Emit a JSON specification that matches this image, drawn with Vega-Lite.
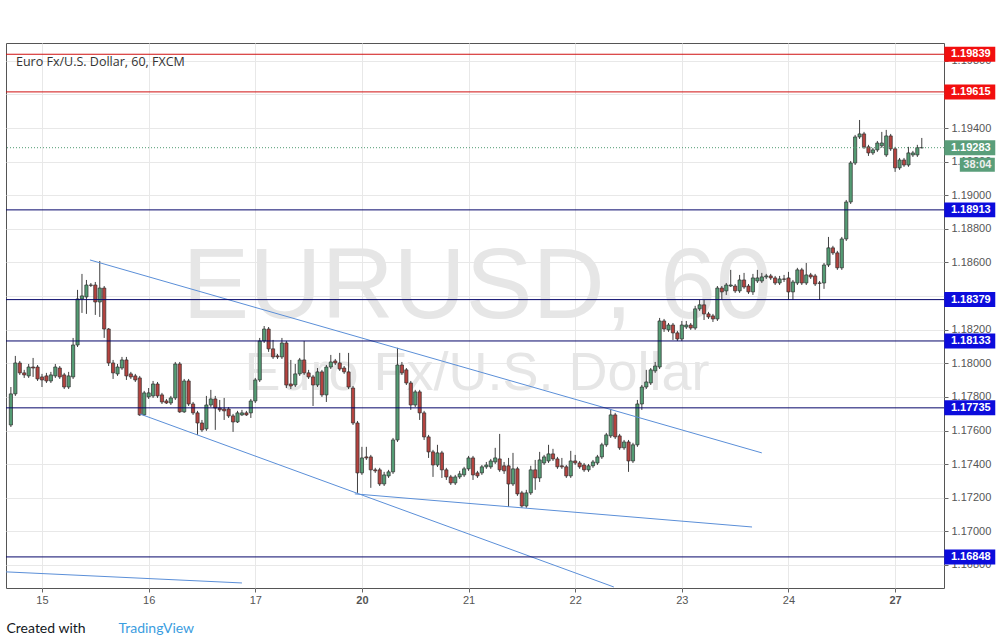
{
  "$schema": "https://vega.github.io/schema/vega-lite/v6.json",
  "width": 938,
  "height": 545,
  "autosize": "none",
  "padding": {"left": 6, "top": 43, "right": 58, "bottom": 56},
  "background": "white",
  "config": {"font": "Liberation Sans", "view": {"stroke": "#555555", "strokeWidth": 1}, "scale": {"continuousPadding": 0}, "axis": {"labelOverlap": false, "labelFlush": false, "labelSeparation": 0}},
  "title": {"text": "Euro Fx/U.S. Dollar, 60, FXCM", "anchor": "start", "frame": "group", "orient": "top", "offset": -35, "dx": 10, "baseline": "alphabetic", "fontSize": 12.5, "fontWeight": "normal", "color": "#333333", "font": "Open Sans"},
  "datasets": {
    "candles": [
      {"t":-7,"o":1.17633,"h":1.17859,"l":1.17621,"c":1.17818},
      {"t":-6,"o":1.17818,"h":1.18044,"l":1.17806,"c":1.18002},
      {"t":-5,"o":1.18002,"h":1.18014,"l":1.17931,"c":1.17943},
      {"t":-4,"o":1.17943,"h":1.17961,"l":1.17913,"c":1.17931},
      {"t":-3,"o":1.17925,"h":1.17996,"l":1.17913,"c":1.17978},
      {"t":-2,"o":1.17978,"h":1.18032,"l":1.17919,"c":1.17972},
      {"t":-1,"o":1.17978,"h":1.17990,"l":1.17895,"c":1.17907},
      {"t":0,"o":1.17919,"h":1.17937,"l":1.17859,"c":1.17901},
      {"t":1,"o":1.17925,"h":1.17943,"l":1.17883,"c":1.17895},
      {"t":2,"o":1.17895,"h":1.17949,"l":1.17883,"c":1.17931},
      {"t":3,"o":1.17925,"h":1.17996,"l":1.17913,"c":1.17978},
      {"t":4,"o":1.17972,"h":1.17984,"l":1.17907,"c":1.17919},
      {"t":5,"o":1.17931,"h":1.17943,"l":1.17847,"c":1.17859},
      {"t":6,"o":1.17859,"h":1.17949,"l":1.17847,"c":1.17925},
      {"t":7,"o":1.17919,"h":1.18151,"l":1.17907,"c":1.18109},
      {"t":8,"o":1.18109,"h":1.18437,"l":1.18097,"c":1.18383},
      {"t":9,"o":1.18383,"h":1.18532,"l":1.18300,"c":1.18401},
      {"t":10,"o":1.18395,"h":1.18496,"l":1.18294,"c":1.18466},
      {"t":11,"o":1.18466,"h":1.18478,"l":1.18454,"c":1.18464},
      {"t":12,"o":1.18466,"h":1.18484,"l":1.18288,"c":1.18365},
      {"t":13,"o":1.18365,"h":1.18609,"l":1.18276,"c":1.18448},
      {"t":14,"o":1.18448,"h":1.18460,"l":1.18151,"c":1.18204},
      {"t":15,"o":1.18204,"h":1.18210,"l":1.17984,"c":1.18002},
      {"t":16,"o":1.18002,"h":1.18020,"l":1.17907,"c":1.17943},
      {"t":17,"o":1.17937,"h":1.17996,"l":1.17925,"c":1.17978},
      {"t":18,"o":1.17972,"h":1.18038,"l":1.17961,"c":1.18020},
      {"t":19,"o":1.18020,"h":1.18038,"l":1.17901,"c":1.17925},
      {"t":20,"o":1.17937,"h":1.17949,"l":1.17907,"c":1.17919},
      {"t":21,"o":1.17925,"h":1.17937,"l":1.17889,"c":1.17901},
      {"t":22,"o":1.17913,"h":1.17925,"l":1.17687,"c":1.17693},
      {"t":23,"o":1.17693,"h":1.17836,"l":1.17687,"c":1.17824},
      {"t":24,"o":1.17800,"h":1.17853,"l":1.17788,"c":1.17824},
      {"t":25,"o":1.17806,"h":1.17895,"l":1.17794,"c":1.17877},
      {"t":26,"o":1.17877,"h":1.17889,"l":1.17794,"c":1.17806},
      {"t":27,"o":1.17812,"h":1.17824,"l":1.17758,"c":1.17770},
      {"t":28,"o":1.17776,"h":1.17788,"l":1.17758,"c":1.17764},
      {"t":29,"o":1.17764,"h":1.17806,"l":1.17752,"c":1.17794},
      {"t":30,"o":1.17794,"h":1.18008,"l":1.17782,"c":1.17996},
      {"t":31,"o":1.17996,"h":1.18008,"l":1.17705,"c":1.17711},
      {"t":32,"o":1.17711,"h":1.17907,"l":1.17705,"c":1.17895},
      {"t":33,"o":1.17895,"h":1.17907,"l":1.17746,"c":1.17758},
      {"t":34,"o":1.17758,"h":1.17770,"l":1.17693,"c":1.17705},
      {"t":35,"o":1.17705,"h":1.17717,"l":1.17574,"c":1.17645},
      {"t":36,"o":1.17645,"h":1.17663,"l":1.17592,"c":1.17604},
      {"t":37,"o":1.17610,"h":1.17806,"l":1.17598,"c":1.17752},
      {"t":38,"o":1.17752,"h":1.17842,"l":1.17740,"c":1.17788},
      {"t":39,"o":1.17788,"h":1.17806,"l":1.17604,"c":1.17734},
      {"t":40,"o":1.17734,"h":1.17782,"l":1.17711,"c":1.17723},
      {"t":41,"o":1.17728,"h":1.17794,"l":1.17663,"c":1.17717},
      {"t":42,"o":1.17728,"h":1.17740,"l":1.17675,"c":1.17687},
      {"t":43,"o":1.17687,"h":1.17699,"l":1.17592,"c":1.17651},
      {"t":44,"o":1.17651,"h":1.17717,"l":1.17645,"c":1.17705},
      {"t":45,"o":1.17693,"h":1.17723,"l":1.17687,"c":1.17705},
      {"t":46,"o":1.17705,"h":1.17717,"l":1.17687,"c":1.17693},
      {"t":47,"o":1.17705,"h":1.17788,"l":1.17675,"c":1.17776},
      {"t":48,"o":1.17776,"h":1.17913,"l":1.17764,"c":1.17901},
      {"t":49,"o":1.17901,"h":1.18151,"l":1.17889,"c":1.18133},
      {"t":50,"o":1.18133,"h":1.18222,"l":1.18121,"c":1.18204},
      {"t":51,"o":1.18204,"h":1.18216,"l":1.18068,"c":1.18086},
      {"t":52,"o":1.18086,"h":1.18139,"l":1.18026,"c":1.18038},
      {"t":53,"o":1.18044,"h":1.18056,"l":1.18026,"c":1.18038},
      {"t":54,"o":1.18038,"h":1.18151,"l":1.18026,"c":1.18121},
      {"t":55,"o":1.18121,"h":1.18133,"l":1.17853,"c":1.17871},
      {"t":56,"o":1.17877,"h":1.18020,"l":1.17847,"c":1.17865},
      {"t":57,"o":1.17871,"h":1.17996,"l":1.17859,"c":1.17937},
      {"t":58,"o":1.17937,"h":1.18032,"l":1.17925,"c":1.18020},
      {"t":59,"o":1.18020,"h":1.18133,"l":1.17931,"c":1.17943},
      {"t":60,"o":1.17943,"h":1.17961,"l":1.17907,"c":1.17919},
      {"t":61,"o":1.17919,"h":1.17931,"l":1.17746,"c":1.17871},
      {"t":62,"o":1.17871,"h":1.17972,"l":1.17859,"c":1.17949},
      {"t":63,"o":1.17949,"h":1.17961,"l":1.17800,"c":1.17812},
      {"t":64,"o":1.17812,"h":1.17990,"l":1.17770,"c":1.17978},
      {"t":65,"o":1.17978,"h":1.18050,"l":1.17966,"c":1.18008},
      {"t":66,"o":1.18014,"h":1.18026,"l":1.17990,"c":1.18002},
      {"t":67,"o":1.18002,"h":1.18062,"l":1.17955,"c":1.17966},
      {"t":68,"o":1.17972,"h":1.17984,"l":1.17937,"c":1.17949},
      {"t":69,"o":1.17949,"h":1.18062,"l":1.17847,"c":1.17859},
      {"t":70,"o":1.17853,"h":1.17865,"l":1.17633,"c":1.17645},
      {"t":71,"o":1.17645,"h":1.17657,"l":1.17229,"c":1.17348},
      {"t":72,"o":1.17348,"h":1.17503,"l":1.17336,"c":1.17437},
      {"t":73,"o":1.17443,"h":1.17503,"l":1.17425,"c":1.17437},
      {"t":74,"o":1.17443,"h":1.17455,"l":1.17259,"c":1.17366},
      {"t":75,"o":1.17366,"h":1.17378,"l":1.17348,"c":1.17360},
      {"t":76,"o":1.17366,"h":1.17378,"l":1.17270,"c":1.17282},
      {"t":77,"o":1.17282,"h":1.17354,"l":1.17270,"c":1.17336},
      {"t":78,"o":1.17330,"h":1.17366,"l":1.17318,"c":1.17354},
      {"t":79,"o":1.17354,"h":1.17556,"l":1.17342,"c":1.17544},
      {"t":80,"o":1.17544,"h":1.18092,"l":1.17532,"c":1.17990},
      {"t":81,"o":1.17990,"h":1.18008,"l":1.17931,"c":1.17943},
      {"t":82,"o":1.17961,"h":1.17972,"l":1.17871,"c":1.17883},
      {"t":83,"o":1.17883,"h":1.17895,"l":1.17723,"c":1.17752},
      {"t":84,"o":1.17752,"h":1.17842,"l":1.17740,"c":1.17830},
      {"t":85,"o":1.17830,"h":1.17842,"l":1.17663,"c":1.17705},
      {"t":86,"o":1.17705,"h":1.17717,"l":1.17544,"c":1.17562},
      {"t":87,"o":1.17562,"h":1.17574,"l":1.17437,"c":1.17473},
      {"t":88,"o":1.17473,"h":1.17485,"l":1.17324,"c":1.17395},
      {"t":89,"o":1.17395,"h":1.17515,"l":1.17383,"c":1.17467},
      {"t":90,"o":1.17467,"h":1.17479,"l":1.17318,"c":1.17366},
      {"t":91,"o":1.17366,"h":1.17378,"l":1.17306,"c":1.17324},
      {"t":92,"o":1.17324,"h":1.17336,"l":1.17276,"c":1.17288},
      {"t":93,"o":1.17288,"h":1.17336,"l":1.17276,"c":1.17324},
      {"t":94,"o":1.17324,"h":1.17360,"l":1.17312,"c":1.17342},
      {"t":95,"o":1.17336,"h":1.17384,"l":1.17324,"c":1.17372},
      {"t":96,"o":1.17372,"h":1.17449,"l":1.17360,"c":1.17437},
      {"t":97,"o":1.17437,"h":1.17449,"l":1.17306,"c":1.17336},
      {"t":98,"o":1.17348,"h":1.17360,"l":1.17318,"c":1.17330},
      {"t":99,"o":1.17348,"h":1.17395,"l":1.17336,"c":1.17384},
      {"t":100,"o":1.17384,"h":1.17413,"l":1.17372,"c":1.17395},
      {"t":101,"o":1.17384,"h":1.17431,"l":1.17372,"c":1.17419},
      {"t":102,"o":1.17413,"h":1.17497,"l":1.17401,"c":1.17437},
      {"t":103,"o":1.17431,"h":1.17580,"l":1.17354,"c":1.17366},
      {"t":104,"o":1.17390,"h":1.17413,"l":1.17342,"c":1.17360},
      {"t":105,"o":1.17390,"h":1.17437,"l":1.17145,"c":1.17282},
      {"t":106,"o":1.17282,"h":1.17467,"l":1.17270,"c":1.17372},
      {"t":107,"o":1.17372,"h":1.17384,"l":1.17211,"c":1.17223},
      {"t":108,"o":1.17229,"h":1.17241,"l":1.17140,"c":1.17151},
      {"t":109,"o":1.17151,"h":1.17247,"l":1.17140,"c":1.17229},
      {"t":110,"o":1.17229,"h":1.17390,"l":1.17217,"c":1.17366},
      {"t":111,"o":1.17366,"h":1.17425,"l":1.17247,"c":1.17318},
      {"t":112,"o":1.17318,"h":1.17473,"l":1.17294,"c":1.17425},
      {"t":113,"o":1.17407,"h":1.17455,"l":1.17395,"c":1.17443},
      {"t":114,"o":1.17419,"h":1.17515,"l":1.17407,"c":1.17461},
      {"t":115,"o":1.17461,"h":1.17491,"l":1.17419,"c":1.17431},
      {"t":116,"o":1.17431,"h":1.17443,"l":1.17372,"c":1.17384},
      {"t":117,"o":1.17390,"h":1.17437,"l":1.17372,"c":1.17384},
      {"t":118,"o":1.17384,"h":1.17395,"l":1.17318,"c":1.17330},
      {"t":119,"o":1.17330,"h":1.17479,"l":1.17318,"c":1.17419},
      {"t":120,"o":1.17419,"h":1.17455,"l":1.17395,"c":1.17407},
      {"t":121,"o":1.17407,"h":1.17419,"l":1.17372,"c":1.17384},
      {"t":122,"o":1.17395,"h":1.17407,"l":1.17354,"c":1.17366},
      {"t":123,"o":1.17366,"h":1.17401,"l":1.17354,"c":1.17390},
      {"t":124,"o":1.17390,"h":1.17425,"l":1.17378,"c":1.17413},
      {"t":125,"o":1.17407,"h":1.17455,"l":1.17395,"c":1.17443},
      {"t":126,"o":1.17443,"h":1.17527,"l":1.17431,"c":1.17515},
      {"t":127,"o":1.17515,"h":1.17586,"l":1.17503,"c":1.17574},
      {"t":128,"o":1.17568,"h":1.17728,"l":1.17556,"c":1.17693},
      {"t":129,"o":1.17693,"h":1.17705,"l":1.17550,"c":1.17562},
      {"t":130,"o":1.17568,"h":1.17580,"l":1.17485,"c":1.17497},
      {"t":131,"o":1.17497,"h":1.17544,"l":1.17485,"c":1.17532},
      {"t":132,"o":1.17532,"h":1.17544,"l":1.17354,"c":1.17419},
      {"t":133,"o":1.17419,"h":1.17527,"l":1.17407,"c":1.17515},
      {"t":134,"o":1.17515,"h":1.17782,"l":1.17503,"c":1.17758},
      {"t":135,"o":1.17758,"h":1.17871,"l":1.17723,"c":1.17859},
      {"t":136,"o":1.17859,"h":1.17961,"l":1.17847,"c":1.17889},
      {"t":137,"o":1.17883,"h":1.17972,"l":1.17871,"c":1.17961},
      {"t":138,"o":1.17955,"h":1.18008,"l":1.17943,"c":1.17984},
      {"t":139,"o":1.17978,"h":1.18270,"l":1.17966,"c":1.18252},
      {"t":140,"o":1.18252,"h":1.18264,"l":1.18187,"c":1.18204},
      {"t":141,"o":1.18199,"h":1.18240,"l":1.18187,"c":1.18228},
      {"t":142,"o":1.18228,"h":1.18240,"l":1.18139,"c":1.18181},
      {"t":143,"o":1.18181,"h":1.18193,"l":1.18133,"c":1.18145},
      {"t":144,"o":1.18145,"h":1.18252,"l":1.18133,"c":1.18228},
      {"t":145,"o":1.18216,"h":1.18252,"l":1.18204,"c":1.18228},
      {"t":146,"o":1.18228,"h":1.18240,"l":1.18199,"c":1.18210},
      {"t":147,"o":1.18210,"h":1.18342,"l":1.18199,"c":1.18324},
      {"t":148,"o":1.18324,"h":1.18377,"l":1.18312,"c":1.18348},
      {"t":149,"o":1.18348,"h":1.18377,"l":1.18258,"c":1.18294},
      {"t":150,"o":1.18294,"h":1.18306,"l":1.18264,"c":1.18276},
      {"t":151,"o":1.18282,"h":1.18294,"l":1.18246,"c":1.18264},
      {"t":152,"o":1.18264,"h":1.18460,"l":1.18252,"c":1.18448},
      {"t":153,"o":1.18448,"h":1.18460,"l":1.18377,"c":1.18425},
      {"t":154,"o":1.18431,"h":1.18478,"l":1.18407,"c":1.18466},
      {"t":155,"o":1.18460,"h":1.18556,"l":1.18454,"c":1.18466},
      {"t":156,"o":1.18460,"h":1.18472,"l":1.18419,"c":1.18431},
      {"t":157,"o":1.18431,"h":1.18526,"l":1.18419,"c":1.18496},
      {"t":158,"o":1.18496,"h":1.18538,"l":1.18443,"c":1.18454},
      {"t":159,"o":1.18460,"h":1.18472,"l":1.18413,"c":1.18425},
      {"t":160,"o":1.18425,"h":1.18532,"l":1.18407,"c":1.18508},
      {"t":161,"o":1.18490,"h":1.18556,"l":1.18478,"c":1.18508},
      {"t":162,"o":1.18490,"h":1.18538,"l":1.18478,"c":1.18514},
      {"t":163,"o":1.18514,"h":1.18532,"l":1.18502,"c":1.18520},
      {"t":164,"o":1.18520,"h":1.18532,"l":1.18496,"c":1.18508},
      {"t":165,"o":1.18508,"h":1.18520,"l":1.18466,"c":1.18478},
      {"t":166,"o":1.18478,"h":1.18520,"l":1.18466,"c":1.18502},
      {"t":167,"o":1.18502,"h":1.18526,"l":1.18484,"c":1.18500},
      {"t":168,"o":1.18508,"h":1.18544,"l":1.18377,"c":1.18425},
      {"t":169,"o":1.18425,"h":1.18496,"l":1.18377,"c":1.18484},
      {"t":170,"o":1.18478,"h":1.18568,"l":1.18466,"c":1.18556},
      {"t":171,"o":1.18556,"h":1.18568,"l":1.18466,"c":1.18478},
      {"t":172,"o":1.18478,"h":1.18597,"l":1.18466,"c":1.18526},
      {"t":173,"o":1.18526,"h":1.18538,"l":1.18502,"c":1.18514},
      {"t":174,"o":1.18520,"h":1.18532,"l":1.18460,"c":1.18472},
      {"t":175,"o":1.18478,"h":1.18490,"l":1.18377,"c":1.18476},
      {"t":176,"o":1.18478,"h":1.18597,"l":1.18443,"c":1.18585},
      {"t":177,"o":1.18585,"h":1.18752,"l":1.18573,"c":1.18687},
      {"t":178,"o":1.18687,"h":1.18699,"l":1.18645,"c":1.18657},
      {"t":179,"o":1.18657,"h":1.18669,"l":1.18556,"c":1.18568},
      {"t":180,"o":1.18568,"h":1.18752,"l":1.18556,"c":1.18740},
      {"t":181,"o":1.18740,"h":1.18972,"l":1.18728,"c":1.18960},
      {"t":182,"o":1.18960,"h":1.19204,"l":1.18948,"c":1.19192},
      {"t":183,"o":1.19192,"h":1.19359,"l":1.19180,"c":1.19347},
      {"t":184,"o":1.19347,"h":1.19448,"l":1.19335,"c":1.19365},
      {"t":185,"o":1.19365,"h":1.19377,"l":1.19276,"c":1.19288},
      {"t":186,"o":1.19288,"h":1.19300,"l":1.19234,"c":1.19252},
      {"t":187,"o":1.19252,"h":1.19282,"l":1.19240,"c":1.19270},
      {"t":188,"o":1.19270,"h":1.19323,"l":1.19258,"c":1.19311},
      {"t":189,"o":1.19294,"h":1.19377,"l":1.19282,"c":1.19311},
      {"t":190,"o":1.19240,"h":1.19389,"l":1.19228,"c":1.19353},
      {"t":191,"o":1.19353,"h":1.19365,"l":1.19264,"c":1.19276},
      {"t":192,"o":1.19276,"h":1.19288,"l":1.19139,"c":1.19163},
      {"t":193,"o":1.19163,"h":1.19222,"l":1.19151,"c":1.19210},
      {"t":194,"o":1.19210,"h":1.19222,"l":1.19169,"c":1.19180},
      {"t":195,"o":1.19180,"h":1.19288,"l":1.19169,"c":1.19252},
      {"t":196,"o":1.19240,"h":1.19264,"l":1.19228,"c":1.19252},
      {"t":197,"o":1.19240,"h":1.19300,"l":1.19228,"c":1.19283},
      {"t":198,"o":1.19283,"h":1.19341,"l":1.19279,"c":1.19283}
    ],
    "levels": [
      {"p":1.19839,"kind":"R"},
      {"p":1.19615,"kind":"R"},
      {"p":1.18913,"kind":"S"},
      {"p":1.18379,"kind":"S"},
      {"p":1.18133,"kind":"S"},
      {"p":1.17735,"kind":"S"},
      {"p":1.16848,"kind":"S"}
    ],
    "trend": [
      {"t1":10.8,"p1":1.18615,"t2":162.0,"p2":1.17467},
      {"t1":22.0,"p1":1.17699,"t2":128.7,"p2":1.16669},
      {"t1":70.4,"p1":1.17223,"t2":159.8,"p2":1.17026},
      {"t1":-8.1,"p1":1.16759,"t2":45.0,"p2":1.16693}
    ]
  },
  "layer": [
    {
      "data": {"values": [{"label": "EURUSD, 60"}]},
      "mark": {"type": "text", "fontSize": 100, "color": "#e6e6e6", "align": "center", "baseline": "alphabetic", "font": "Liberation Sans"},
      "encoding": {
        "x": {"datum": 97.9, "type": "quantitative", "scale": {"domain": [-8.1, 203.0], "nice": false, "zero": false, "padding": 0},
          "axis": {"values": [0, 24, 48, 72, 96, 120, 144, 168, 192],
            "labelExpr": "['15','16','17','20','21','22','23','24','27'][round(datum.value/24)]",
            "grid": true, "gridColor": "#e8e8e8", "domain": false, "tickColor": "#666666", "tickSize": 4,
            "labelColor": "#555555", "labelFontSize": 11, "labelPadding": 2, "labelOverlap": false, "labelFlush": false,
            "labelFontWeight": {"condition": {"test": "datum.value == 72 || datum.value == 192", "value": "bold"}, "value": "normal"},
            "title": "Created with", "titleX": 0, "titleY": 44, "titleAlign": "left", "titleAnchor": "start", "titleBaseline": "alphabetic",
            "titleFontSize": 14, "titleFontWeight": "normal", "titleColor": "#131722", "titleFont": "Lato", "zindex": 0}},
        "y": {"datum": 1.1827, "type": "quantitative", "scale": {"domain": [1.16663, 1.19906], "nice": false, "zero": false},
          "axis": {"orient": "right", "tickCount": 17, "values": [1.168, 1.170, 1.172, 1.174, 1.176, 1.178, 1.180, 1.182, 1.184, 1.186, 1.188, 1.190, 1.192, 1.194, 1.196, 1.198],
            "format": ".5f", "grid": true, "gridColor": "#e8e8e8", "domain": false, "tickColor": "#666666", "tickSize": 4,
            "labelColor": "#555555", "labelFontSize": 11, "labelPadding": 3, "labelOverlap": false, "labelFlush": false, "labelBound": false, "labelSeparation": 0,
            "title": "TradingView", "titleAngle": 0, "titleX": -826, "titleY": 589, "titleAlign": "left", "titleAnchor": "start", "titleBaseline": "alphabetic",
            "titleColor": "#3b9de0", "titleFontSize": 14, "titleFontWeight": "normal", "titleFont": "Lato", "zindex": 0}},
        "text": {"field": "label"}
      }
    },
    {
      "data": {"values": [{"label": "Euro Fx/U.S. Dollar"}]},
      "mark": {"type": "text", "fontSize": 54, "color": "#e6e6e6", "align": "center", "baseline": "alphabetic", "font": "Liberation Sans"},
      "encoding": {
        "x": {"datum": 97.9, "type": "quantitative", "scale": {"domain": [-8.1, 203.0], "nice": false, "zero": false, "padding": 0}},
        "y": {"datum": 1.17842, "type": "quantitative", "scale": {"domain": [1.16663, 1.19906], "nice": false, "zero": false}},
        "text": {"field": "label"}
      }
    },
    {
      "data": {"name": "candles"},
      "mark": {"type": "rule", "color": "#404040", "strokeWidth": 1},
      "encoding": {
        "x": {"field": "t", "type": "quantitative", "scale": {"domain": [-8.1, 203.0], "nice": false, "zero": false, "padding": 0}},
        "y": {"field": "l", "type": "quantitative", "scale": {"domain": [1.16663, 1.19906], "nice": false, "zero": false}},
        "y2": {"field": "h"}
      }
    },
    {
      "data": {"name": "candles"},
      "mark": {"type": "bar", "width": 3.2, "stroke": "#2f2f2f", "strokeWidth": 0.7},
      "encoding": {
        "x": {"field": "t", "type": "quantitative", "scale": {"domain": [-8.1, 203.0], "nice": false, "zero": false, "padding": 0}},
        "y": {"field": "o", "type": "quantitative", "scale": {"domain": [1.16663, 1.19906], "nice": false, "zero": false}},
        "y2": {"field": "c"},
        "fill": {"condition": {"test": "datum.c >= datum.o", "value": "#549c74"}, "value": "#b5433f"}
      }
    },
    {
      "data": {"name": "trend"},
      "mark": {"type": "rule", "color": "#5b8fd8", "strokeWidth": 1},
      "encoding": {
        "x": {"field": "t1", "type": "quantitative", "scale": {"domain": [-8.1, 203.0], "nice": false, "zero": false, "padding": 0}},
        "y": {"field": "p1", "type": "quantitative", "scale": {"domain": [1.16663, 1.19906], "nice": false, "zero": false}},
        "x2": {"field": "t2"},
        "y2": {"field": "p2"}
      }
    },
    {
      "data": {"name": "levels"},
      "mark": {"type": "rule", "strokeWidth": 1},
      "encoding": {
        "y": {"field": "p", "type": "quantitative", "scale": {"domain": [1.16663, 1.19906], "nice": false, "zero": false}},
        "color": {"condition": {"test": "datum.kind == 'R'", "value": "#d01010"}, "value": "#06066a"}
      }
    },
    {
      "data": {"values": [{"p": 1.19283}]},
      "mark": {"type": "rule", "strokeWidth": 1, "strokeDash": [1, 2], "color": "#4f9a72"},
      "encoding": {
        "y": {"field": "p", "type": "quantitative", "scale": {"domain": [1.16663, 1.19906], "nice": false, "zero": false}}
      }
    },
    {
      "data": {"name": "levels"},
      "mark": {"type": "point", "shape": "M-1,-0.294L1,-0.294L1,0.294L-1,0.294Z", "size": 2601, "filled": true, "opacity": 1, "strokeWidth": 0},
      "encoding": {
        "x": {"datum": 208.8, "type": "quantitative", "scale": {"domain": [-8.1, 203.0], "nice": false, "zero": false, "padding": 0}},
        "y": {"field": "p", "type": "quantitative", "scale": {"domain": [1.16663, 1.19906], "nice": false, "zero": false}},
        "fill": {"condition": {"test": "datum.kind == 'R'", "value": "#f20f0f"}, "value": "#0c0cdc"}
      }
    },
    {
      "data": {"values": [{"p": 1.19283}]},
      "mark": {"type": "point", "shape": "M-1,-0.294L1,-0.294L1,0.294L-1,0.294Z", "size": 2601, "filled": true, "opacity": 1, "strokeWidth": 0, "color": "#5a9e7a"},
      "encoding": {
        "x": {"datum": 208.8, "type": "quantitative", "scale": {"domain": [-8.1, 203.0], "nice": false, "zero": false, "padding": 0}},
        "y": {"field": "p", "type": "quantitative", "scale": {"domain": [1.16663, 1.19906], "nice": false, "zero": false}}
      }
    },
    {
      "data": {"values": [{"p": 1.19283, "label": "38:04"}]},
      "mark": {"type": "point", "shape": "M-1,-0.4L1,-0.4L1,0.4L-1,0.4Z", "size": 1225, "filled": true, "opacity": 1, "strokeWidth": 0, "color": "#5a9e7a", "yOffset": 17},
      "encoding": {
        "x": {"datum": 210.5, "type": "quantitative", "scale": {"domain": [-8.1, 203.0], "nice": false, "zero": false, "padding": 0}},
        "y": {"field": "p", "type": "quantitative", "scale": {"domain": [1.16663, 1.19906], "nice": false, "zero": false}}
      }
    },
    {
      "data": {"name": "levels"},
      "mark": {"type": "text", "color": "white", "fontWeight": "bold", "fontSize": 11, "align": "center", "baseline": "middle", "dx": 1},
      "encoding": {
        "x": {"datum": 208.8, "type": "quantitative", "scale": {"domain": [-8.1, 203.0], "nice": false, "zero": false, "padding": 0}},
        "y": {"field": "p", "type": "quantitative", "scale": {"domain": [1.16663, 1.19906], "nice": false, "zero": false}},
        "text": {"field": "p", "format": ".5f"}
      }
    },
    {
      "data": {"values": [{"p": 1.19283}]},
      "mark": {"type": "text", "color": "white", "fontWeight": "bold", "fontSize": 11, "align": "center", "baseline": "middle", "dx": 1},
      "encoding": {
        "x": {"datum": 208.8, "type": "quantitative", "scale": {"domain": [-8.1, 203.0], "nice": false, "zero": false, "padding": 0}},
        "y": {"field": "p", "type": "quantitative", "scale": {"domain": [1.16663, 1.19906], "nice": false, "zero": false}},
        "text": {"field": "p", "format": ".5f"}
      }
    },
    {
      "data": {"values": [{"p": 1.19283, "label": "38:04"}]},
      "mark": {"type": "text", "color": "#eeeeee", "fontWeight": "bold", "fontSize": 11, "align": "center", "baseline": "middle", "yOffset": 17},
      "encoding": {
        "x": {"datum": 210.5, "type": "quantitative", "scale": {"domain": [-8.1, 203.0], "nice": false, "zero": false, "padding": 0}},
        "y": {"field": "p", "type": "quantitative", "scale": {"domain": [1.16663, 1.19906], "nice": false, "zero": false}},
        "text": {"field": "label"}
      }
    }
  ]
}
